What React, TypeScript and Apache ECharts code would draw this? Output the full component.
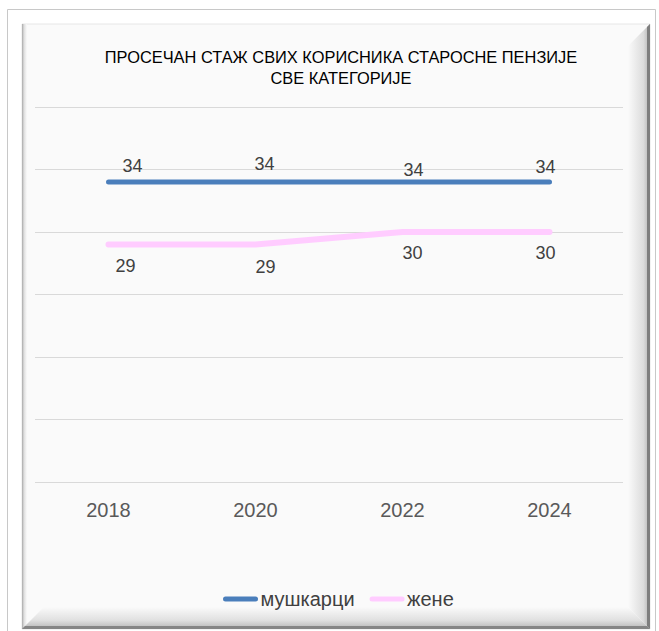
import React, { useEffect, useRef } from "react";
import * as echarts from "echarts";

const titleText = "ПРОСЕЧАН СТАЖ СВИХ КОРИСНИКА СТАРОСНЕ ПЕНЗИЈЕ\nСВЕ КАТЕГОРИЈЕ";
const categories = ["2018", "2020", "2022", "2024"];
const menName = "мушкарци";
const womenName = "жене";
const menValues = [34, 34, 34, 34];
const womenValues = [29, 29, 30, 30];
// manual label nudges (style only), [dx, dy] from each point
const menLabelNudge = [[24, -16], [9, -18], [11, -12], [-4, -15]];
const womenLabelNudge = [[17, 21], [10, 22], [10, 21], [-4, 21]];

const FONT = "'Liberation Sans', Arial, sans-serif";

export default function App() {
  const ref = useRef<HTMLDivElement>(null);
  useEffect(() => {
    if (!ref.current) return;
    const chart = echarts.init(ref.current, undefined, { renderer: "svg" });
    const mkData = (vals: number[], nudges: number[][]) =>
      vals.map((v, i) => ({ value: v, label: { offset: nudges[i] } }));
    const label = {
      show: true,
      position: "inside",
      color: "#404040",
      fontSize: 18,
      fontFamily: FONT,
    };
    chart.setOption({
      animation: false,
      backgroundColor: "#ffffff",
      title: {
        text: titleText,
        left: 341,
        top: 46,
        padding: 0,
        textAlign: "center",
        textStyle: {
          fontSize: 16.4,
          fontWeight: "normal",
          color: "#000000",
          fontFamily: FONT,
          lineHeight: 21,
        },
      },
      graphic: [
        {
          type: "rect",
          z: -10,
          shape: { x: 7.5, y: 9.5, width: 648, height: 640 },
          style: { fill: "#ffffff", stroke: "#c8c8c8", lineWidth: 1 },
        },
        {
          type: "rect",
          z: -9,
          shape: { x: 22, y: 24, width: 628, height: 605 },
          style: { fill: "#fafafa", stroke: "#e6e6e6", lineWidth: 1 },
        },
        {
          type: "rect",
          z: -8,
          shape: { x: 22, y: 24, width: 5, height: 605 },
          style: {
            fill: new echarts.graphic.LinearGradient(0, 0, 1, 0, [
              { offset: 0, color: "#a8a8a8" },
              { offset: 0.4, color: "#dedede" },
              { offset: 1, color: "#fafafa" },
            ]),
          },
        },
        {
          type: "polygon",
          z: -7,
          shape: { points: [[650, 24], [650, 629], [628, 607], [628, 46]] },
          style: {
            fill: new echarts.graphic.LinearGradient(0, 0, 1, 0, [
              { offset: 0, color: "#fafafa" },
              { offset: 0.7, color: "#dcdcdc" },
              { offset: 1, color: "#b0b0b0" },
            ]),
          },
        },
        {
          type: "polygon",
          z: -7,
          shape: { points: [[22, 629], [650, 629], [628, 607], [44, 607]] },
          style: {
            fill: new echarts.graphic.LinearGradient(0, 0, 0, 1, [
              { offset: 0, color: "#fafafa" },
              { offset: 0.6, color: "#e0e0e0" },
              { offset: 1, color: "#b4b4b4" },
            ]),
          },
        },
        {
          type: "polygon",
          z: -6,
          shape: { points: [[647, 27], [650, 24], [650, 629], [647, 626]] },
          style: { fill: "#7e7e7e" },
        },
        {
          type: "polygon",
          z: -6,
          shape: { points: [[25, 626], [647, 626], [650, 629], [22, 629]] },
          style: { fill: "#858585" },
        },
      ],
      legend: {
        left: 223,
        top: 589,
        padding: 0,
        itemWidth: 30,
        itemHeight: 14,
        itemGap: 15,
        textStyle: { fontSize: 20, color: "#404040", fontFamily: FONT },
        lineStyle: { width: 5, cap: "round" },
        itemStyle: { opacity: 0 },
        data: [menName, womenName],
      },
      grid: { left: 35, right: 36, top: 107, bottom: 149, containLabel: false },
      xAxis: {
        type: "category",
        data: categories,
        boundaryGap: true,
        axisLine: { show: false },
        axisTick: { show: false },
        axisLabel: {
          margin: 18,
          fontSize: 20,
          color: "#595959",
          fontFamily: FONT,
        },
      },
      yAxis: {
        type: "value",
        min: 10,
        max: 40,
        interval: 5,
        axisLabel: { show: false },
        axisLine: { show: false },
        axisTick: { show: false },
        splitLine: { lineStyle: { color: "#d9d9d9", width: 1 } },
      },
      series: [
        {
          name: menName,
          type: "line",
          data: mkData(menValues, menLabelNudge),
          symbol: "circle",
          symbolSize: 1,
          showSymbol: true,
          itemStyle: { color: "rgba(0,0,0,0)" },
          lineStyle: { color: "#4a7ebb", width: 5, cap: "round", join: "round" },
          label,
          emphasis: { disabled: true },
          z: 3,
        },
        {
          name: womenName,
          type: "line",
          data: mkData(womenValues, womenLabelNudge),
          symbol: "circle",
          symbolSize: 1,
          showSymbol: true,
          itemStyle: { color: "rgba(0,0,0,0)" },
          lineStyle: { color: "#ffccff", width: 6, cap: "round", join: "round" },
          label,
          emphasis: { disabled: true },
          z: 2,
        },
      ],
    });
    return () => chart.dispose();
  }, []);
  return (
    <div
      ref={ref}
      style={{ position: "absolute", left: 0, top: 0, width: 659, height: 631 }}
    />
  );
}
